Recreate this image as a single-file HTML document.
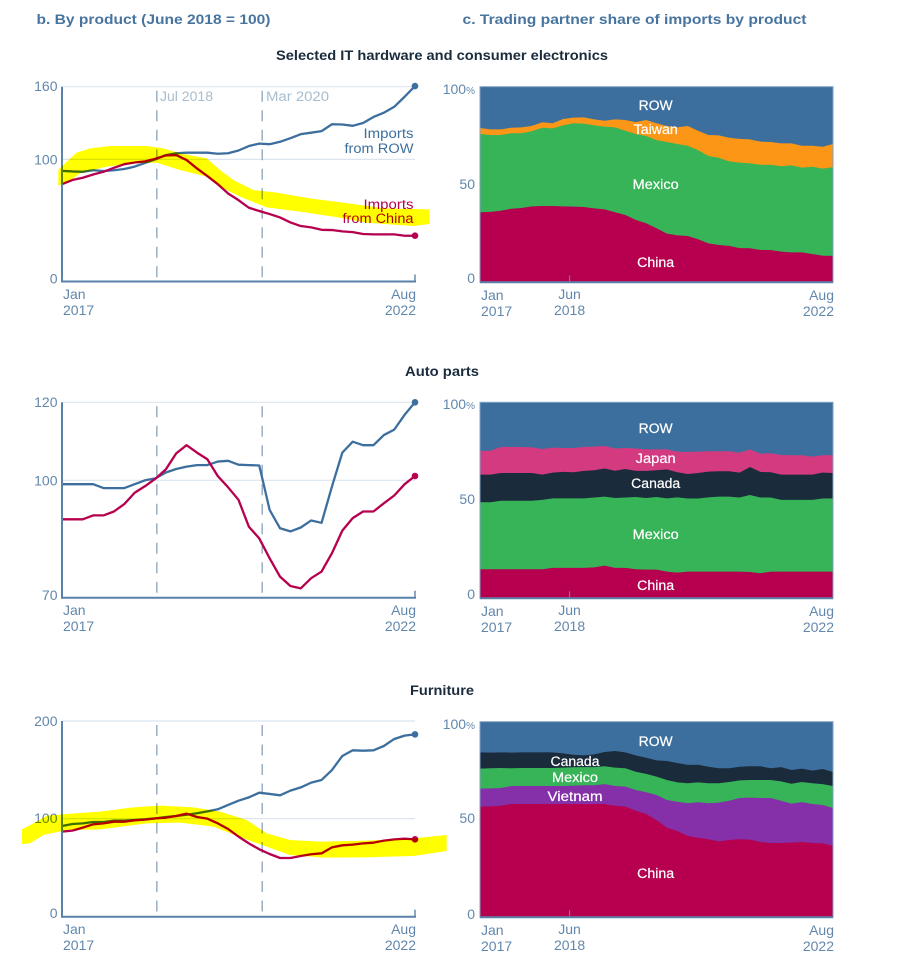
<!DOCTYPE html>
<html lang="en">
<head>
<meta charset="utf-8">
<title>Imports by product</title>
<style>
html,body{margin:0;padding:0;background:#fff;}
svg{display:block;font-family:"Liberation Sans",sans-serif;}
.panel-title{font-size:13.5px;font-weight:bold;fill:#47749f;}
.section-title{font-size:13.5px;font-weight:bold;fill:#1a2b3c;}
.tick{font-size:14px;fill:#6287ac;}
.event{font-size:13.5px;fill:#a9bccd;}
.stack-label{font-size:13.5px;fill:#fff;stroke:#fff;stroke-width:.2px;text-anchor:middle;}
.series-label{font-size:13.5px;text-anchor:end;}
.highlight{fill:#ffff00;mix-blend-mode:multiply;}
</style>
</head>
<body>
<svg id="chart" width="899" height="973" viewBox="0 0 899 973" xmlns="http://www.w3.org/2000/svg">
  <rect width="899" height="973" fill="#fff"/>
  <g id="marks"></g>

  <text class="panel-title" x="36.5" y="24" textLength="234" lengthAdjust="spacingAndGlyphs">b. By product (June 2018 = 100)</text>
  <text class="panel-title" x="462.5" y="24" textLength="344" lengthAdjust="spacingAndGlyphs">c. Trading partner share of imports by product</text>
  <text class="section-title" x="276" y="60" textLength="332" lengthAdjust="spacingAndGlyphs">Selected IT hardware and consumer electronics</text>
  <text class="section-title" x="405" y="376" textLength="74" lengthAdjust="spacingAndGlyphs">Auto parts</text>
  <text class="section-title" x="410" y="695" textLength="64" lengthAdjust="spacingAndGlyphs">Furniture</text>

  <text class="event" x="160" y="101" textLength="53" lengthAdjust="spacingAndGlyphs">Jul 2018</text>
  <text class="event" x="266" y="101" textLength="63" lengthAdjust="spacingAndGlyphs">Mar 2020</text>

  <text class="series-label" fill="#3d6f9e" x="413.5" y="138" textLength="50" lengthAdjust="spacingAndGlyphs">Imports</text>
  <text class="series-label" fill="#3d6f9e" x="413.5" y="153" textLength="69" lengthAdjust="spacingAndGlyphs">from ROW</text>
  <text class="series-label" fill="#b6004f" x="413.5" y="209" textLength="50" lengthAdjust="spacingAndGlyphs">Imports</text>
  <text class="series-label" fill="#b6004f" x="413.5" y="223" textLength="71" lengthAdjust="spacingAndGlyphs">from China</text>

  <text class="stack-label" x="655.7" y="110" textLength="34" lengthAdjust="spacingAndGlyphs">ROW</text>
  <text class="stack-label" x="655.7" y="134" textLength="44" lengthAdjust="spacingAndGlyphs">Taiwan</text>
  <text class="stack-label" x="655.7" y="189" textLength="46" lengthAdjust="spacingAndGlyphs">Mexico</text>
  <text class="stack-label" x="655.7" y="267" textLength="37" lengthAdjust="spacingAndGlyphs">China</text>

  <text class="stack-label" x="655.7" y="433" textLength="34" lengthAdjust="spacingAndGlyphs">ROW</text>
  <text class="stack-label" x="655.7" y="463" textLength="40" lengthAdjust="spacingAndGlyphs">Japan</text>
  <text class="stack-label" x="655.7" y="488" textLength="49" lengthAdjust="spacingAndGlyphs">Canada</text>
  <text class="stack-label" x="655.7" y="539" textLength="46" lengthAdjust="spacingAndGlyphs">Mexico</text>
  <text class="stack-label" x="655.7" y="590" textLength="37" lengthAdjust="spacingAndGlyphs">China</text>

  <text class="stack-label" x="655.7" y="746" textLength="34" lengthAdjust="spacingAndGlyphs">ROW</text>
  <text class="stack-label" x="575" y="766" textLength="49" lengthAdjust="spacingAndGlyphs">Canada</text>
  <text class="stack-label" x="575" y="782" textLength="46" lengthAdjust="spacingAndGlyphs">Mexico</text>
  <text class="stack-label" x="575" y="801" textLength="55" lengthAdjust="spacingAndGlyphs">Vietnam</text>
  <text class="stack-label" x="655.7" y="878" textLength="37" lengthAdjust="spacingAndGlyphs">China</text>

  <!-- Hand-drawn highlighter annotation laid over the charts (not a data mark) -->
  <g transform="scale(0.33333)">
    <polygon class="highlight" points="175,510 195,490 230,458 270,445 330,438 440,438 490,445 540,460 620,475 660,510 700,540 760,570 830,578 930,595 1060,612 1150,625 1288,628 1288,672 1240,678 1100,668 1000,650 900,635 800,622 720,590 670,565 620,530 540,510 470,488 400,490 320,500 240,520 205,545 175,557"/>
  </g>
  <g transform="translate(0,670) scale(0.33333)">
    <polygon class="highlight" points="66,478 100,460 140,437 200,432 300,425 400,412 480,407 580,412 660,425 740,450 800,490 870,510 960,515 1100,512 1240,505 1340,495 1340,543 1240,558 1100,562 970,563 870,555 800,530 730,505 640,470 540,458 440,460 300,478 200,480 130,495 90,520 66,522"/>
  </g>
</svg>

<script>
// ----- Time axis -----
const totalMonths = 67;            // Jan 2017 .. Aug 2022
const eventMonths = [18, 38];      // Jul 2018, Mar 2020
const junMonth = 17;               // Jun 2018
const leftXTickLabels = [["Jan", "2017"], ["Aug", "2022"]];
const rightXTickLabels = [["Jan", "2017"], ["Jun", "2018"], ["Aug", "2022"]];

// ----- Panel b: indexes (June 2018 = 100) -----
const electronicsTicks = [0, 100, 160];
const electronicsRow = [90.5,90,89.7,91,90.3,91,92,94,97,100,103.5,105,105.5,105.5,105.5,104.6,105,107.3,111,113,112.5,114.5,117.5,120.8,122,123.3,129,128.8,127.7,130,135,138.5,143.4,151.7,160.5];
const electronicsChina = [79.5,82.9,84.8,87.5,89.7,93,96,97.4,98.3,100.5,103.2,103.5,99.4,92.5,86.2,79.5,71.8,66.3,60,57.3,54.8,52,47.9,44.9,43.8,41.8,41.6,40.5,39.9,38.3,38,38,38,36.9,36.9];

const autoTicks = [70, 100, 120];
const autoRow = [99,99,99,99,98,98,98,99,100,100.5,102,102.9,103.5,103.9,103.9,104.8,105,104,103.9,103.8,92.4,87.7,86.9,87.9,89.7,89.1,98.4,107.1,109.9,109,109,111.6,113,116.8,120];
const autoChina = [90,90,90,91,91,92,93.9,96.8,98.5,100.4,102.8,106.9,109,107.1,105.4,101.1,98.2,95,88.1,85.1,80,75.3,72.9,72.3,74.9,76.6,81.3,87.1,90.3,92,92,94.1,96.1,99,101.1];

const furnitureTicks = [0, 100, 200];
const furnitureRow = [92.5,94.5,95.2,96.6,96.6,98,98,98.6,99.3,100.3,101.7,102.7,104,105.5,107.5,109.6,114,118.4,121.8,126.6,125.3,123.9,128.7,132,136.9,139.6,149.8,164.2,170,169.6,170,174.4,181.6,185,186.3];
const furnitureChina = [86.7,87.7,90.8,94.2,95.2,96.9,96.9,98.3,99,100.3,101,102.7,105.1,101.7,100,95.2,89.4,81.6,74.7,68.6,63.8,59.7,59.7,61.8,63.5,64.5,70.6,72.7,73.4,74.7,75.4,77.5,78.8,79.5,78.8];

// ----- Panel c: shares, as the upper edge of each stacked band (ROW fills to 100) -----
const shareTicks = [0, 50, 100];
const electronicsChinaTop = [35.8,36,36.6,37.6,38,38.8,39,39,38.8,38.7,38.5,37.8,37.3,35.8,34.4,31.9,30.2,27.6,24.9,24,23.7,22,19.9,19.1,18.6,17.5,17.4,16.5,16.5,15.7,15.3,15.3,14.5,13.6,13.5];
const electronicsMexicoTop = [75.8,75.3,75.3,76.2,76.2,77.3,79,78.7,80.2,81.3,81.1,80.2,79.6,79.2,77.5,75.8,74.8,72.7,71.7,70.7,69.8,67.6,64.6,63.7,61.8,61.2,60.8,60.1,60.1,59.3,59.8,58.6,59.1,58.1,58.8];
const electronicsTaiwanTop = [78.9,78.2,78.2,79,79.2,80,81.8,81.3,83.5,84.2,84.3,83.3,82.6,83.3,83,81.9,83,81.3,79.9,79.2,79.9,77.5,75.3,75.1,73.9,73.3,73.1,71.9,71.7,71,71,69.8,69.8,69.3,70.7];

const autoChinaTop = [14.8,14.8,14.8,14.8,14.8,14.8,14.8,15.5,15.5,15.5,15.5,15.8,16.7,15.5,15.5,14.8,14.6,14.6,13.6,13.1,13.6,13.6,13.6,13.6,13.6,13.6,13.4,12.8,13.6,13.6,13.6,13.6,13.6,13.6,13.6];
const autoMexicoTop = [49,49,49.8,49.8,49.8,49.8,50.2,51,51,51,51,51.4,51.9,51.2,51.4,51.7,51.2,51.7,51,51.5,50.9,50.9,51.5,51.9,51.9,51.4,52.7,51.4,51.4,50.2,50.2,50.2,50.2,50.9,51];
const autoCanadaTop = [63.1,63.1,63.9,63.9,63.9,63.9,63.1,64.1,64.5,64.3,65,65.3,66.2,65.1,66,65,65,65.3,65.8,64.3,63.4,63.9,64.6,64.8,64.8,64.1,67,64.5,64.3,63.1,63.1,63.1,63.1,64.1,63.9];
const autoJapanTop = [75.2,75.3,77.2,77.2,77.2,77,76.2,76.9,76.7,76.7,77.2,77.4,77.7,76.4,76.7,76.4,76,76,76,74.8,74.7,74.8,75,75,75,74.3,76,73.8,74,73.1,73,73,72.3,73,73];

const furnitureChinaTop = [56.6,56.7,57,57.9,57.9,57.9,57.9,57.9,57.9,57.9,57.9,57.9,57.9,57,56.6,54.5,52.8,49.7,45.8,44.1,41.6,40.7,39.9,38.8,39.5,39.9,39.7,38.5,38,38,38.2,38.5,38,37.8,36.6];
const furnitureVietnamTop = [65.8,65.9,66.1,67.1,67.1,67.1,67.1,67.1,67.1,67.3,67.5,67.5,68.1,67.1,66.8,65.1,63.9,62.5,60,59.1,58.3,58.8,58.3,58.6,59.6,61,61.2,61,61,59.6,58.1,58.9,57.9,57.4,55.9];
const furnitureMexicoTop = [76,76.2,76.3,76.2,76.3,76.3,76.3,76.3,76.5,76.7,76.8,76.8,77.2,76.5,76.2,74.4,73.3,71.9,70.2,69,68.5,69,68.5,68.5,69.2,70,70.2,70.2,70.2,69.5,68.3,69.2,68.5,68.1,67.1];
const furnitureCanadaTop = [84.3,84.2,84.3,84.2,84.3,84.3,84.3,84.3,83.8,83.1,82.8,83.3,84.5,85,84.3,82.8,81.6,80.2,79.9,78.9,77.9,78,77,76.2,76.2,77,77.2,77.2,76.2,76.8,75.3,76,75,75.8,74.3];

// ----- Layout and styling (separate from the data) -----
const BLUE = "#3d6f9e", RED = "#b6004f", AXIS = "#5a82a8", GRID = "#dbe4ef", DASH = "#92a9c0";
const COLORS = {China: "#b6004f", Mexico: "#37b358", Taiwan: "#fb9616", Canada: "#1a2b3c", Japan: "#d43a7f", Vietnam: "#8530a8"};
const leftFrame = {x0: 62, x1: 415};
const rightFrame = {x0: 480, x1: 833};
const leftPanels = [
  {name: "electronics", ticks: electronicsTicks, row: electronicsRow, china: electronicsChina, yMax: 86.7, yMin: 280.4, axisY: 281.5, labelDy: [3, 5, 4.5], xLabelY: 299},
  {name: "auto-parts", ticks: autoTicks, row: autoRow, china: autoChina, yMax: 402.3, yMin: 597.3, axisY: 597.7, labelDy: [2.5, 5, 4.5], xLabelY: 615},
  {name: "furniture", ticks: furnitureTicks, row: furnitureRow, china: furnitureChina, yMax: 721, yMin: 916.3, axisY: 916.7, labelDy: [1.7, 4.5, 5], xLabelY: 934}
];
const rightPanels = [
  {name: "electronics", bands: [["Taiwan", electronicsTaiwanTop], ["Mexico", electronicsMexicoTop], ["China", electronicsChinaTop]], yMax: 86.7, yMin: 282.3, xLabelY: 300, labelBase: [283, 189, 94]},
  {name: "auto-parts", bands: [["Japan", autoJapanTop], ["Canada", autoCanadaTop], ["Mexico", autoMexicoTop], ["China", autoChinaTop]], yMax: 402.3, yMin: 598.3, xLabelY: 616, labelBase: [599, 504, 409]},
  {name: "furniture", bands: [["Canada", furnitureCanadaTop], ["Mexico", furnitureMexicoTop], ["Vietnam", furnitureVietnamTop], ["China", furnitureChinaTop]], yMax: 721.7, yMin: 917.3, xLabelY: 935, labelBase: [919, 823, 729]}
];

// ----- Helpers -----
const marks = document.getElementById("marks");
function mk(tag, attrs, text) {
  const e = document.createElementNS("http://www.w3.org/2000/svg", tag);
  for (const k in attrs) e.setAttribute(k, attrs[k]);
  if (text !== undefined) e.textContent = text;
  marks.appendChild(e);
  return e;
}
function xAt(frame, month) { return frame.x0 + (frame.x1 - frame.x0) * month / totalMonths; }
function monthOfSample(i, n) { return totalMonths * i / (n - 1); }
function linearY(v, dMin, dMax, yMin, yMax) { return yMin + (v - dMin) / (dMax - dMin) * (yMax - yMin); }

// ----- Panel b -----
leftPanels.forEach(function (p) {
  const dMin = p.ticks[0], dMax = p.ticks[p.ticks.length - 1];
  const y = function (v) { return linearY(v, dMin, dMax, p.yMin, p.yMax); };

  p.ticks.slice(1).forEach(function (t) {
    const g = mk("line", {x1: leftFrame.x0, x2: leftFrame.x1, y1: y(t), y2: y(t), stroke: GRID, "stroke-width": 1.2});
    
    
  });
  p.ticks.forEach(function (t, i) {
    const l = mk("text", {class: "tick", x: 57.5, y: y(t) + p.labelDy[i], "text-anchor": "end"}, String(t));
    
    
  });
  eventMonths.forEach(function (m) {
    const d = mk("line", {x1: xAt(leftFrame, m), x2: xAt(leftFrame, m), y1: p.yMax + 4, y2: p.axisY, stroke: DASH, "stroke-width": 1.4, "stroke-dasharray": "11 8.5"});
    
    
  });
  [["row", p.row, BLUE], ["china", p.china, RED]].forEach(function (s) {
    const pts = s[1].map(function (v, i) { return xAt(leftFrame, monthOfSample(i, s[1].length)).toFixed(2) + "," + y(v).toFixed(2); }).join(" ");
    const line = mk("polyline", {points: pts, fill: "none", stroke: s[2], "stroke-width": 2.3, "stroke-linejoin": "round"});
    
    
    const dot = mk("circle", {cx: leftFrame.x1, cy: y(s[1][s[1].length - 1]), r: 3.3, fill: s[2]});
    
    
  });
  const ya = mk("line", {x1: leftFrame.x0, x2: leftFrame.x0, y1: p.yMax, y2: p.axisY + 1, stroke: AXIS, "stroke-width": 2});
  
  
  const xa = mk("line", {x1: leftFrame.x0, x2: leftFrame.x1 + 1, y1: p.axisY, y2: p.axisY, stroke: AXIS, "stroke-width": 2});
  
  
  const endTick = mk("line", {x1: leftFrame.x1, x2: leftFrame.x1, y1: p.axisY - 7, y2: p.axisY, stroke: AXIS, "stroke-width": 1.4});
  
  

  leftXTickLabels.forEach(function (lab, i) {
    const first = i === 0;
    lab.forEach(function (txt, row) {
      const t = mk("text", {class: "tick", x: first ? leftFrame.x0 + 1 : leftFrame.x1 + 1, y: p.xLabelY + row * 16, "text-anchor": first ? "start" : "end"}, txt);
      
      
    });
  });
});

// ----- Panel c -----
rightPanels.forEach(function (p) {
  const y = function (v) { return linearY(v, 0, 100, p.yMin, p.yMax); };
  const w = rightFrame.x1 - rightFrame.x0;

  const row = mk("rect", {x: rightFrame.x0, y: y(100), width: w, height: y(0) - y(100), fill: BLUE});
  
  

  p.bands.forEach(function (b) {
    const tops = b[1];
    const pts = tops.map(function (v, i) { return xAt(rightFrame, monthOfSample(i, tops.length)).toFixed(2) + "," + y(v).toFixed(2); });
    pts.push(rightFrame.x1 + "," + y(0), rightFrame.x0 + "," + y(0));
    const a = mk("polygon", {points: pts.join(" "), fill: COLORS[b[0]]});
    
    
  });

  const frame = mk("rect", {x: rightFrame.x0, y: y(100), width: w, height: y(0) - y(100), fill: "none", stroke: "#7fa0c4", "stroke-width": 1});
  
  
  const xa = mk("line", {x1: rightFrame.x0, x2: rightFrame.x1, y1: y(0), y2: y(0), stroke: AXIS, "stroke-width": 2});
  
  
  const jt = mk("line", {x1: xAt(rightFrame, junMonth), x2: xAt(rightFrame, junMonth), y1: y(0) - 7, y2: y(0), stroke: AXIS, "stroke-width": 1.2});
  
  

  shareTicks.forEach(function (t, i) {
    const l = mk("text", {class: "tick", x: 475, y: p.labelBase[i], "text-anchor": "end"}, String(t));
    if (t === 100) {
      const pct = document.createElementNS("http://www.w3.org/2000/svg", "tspan");
      pct.setAttribute("font-size", "10");
      pct.textContent = "%";
      l.appendChild(pct);
    }
    
    
  });

  rightXTickLabels.forEach(function (lab, i) {
    const anchor = i === 0 ? "start" : (i === 1 ? "middle" : "end");
    const xp = i === 0 ? rightFrame.x0 + 1 : (i === 1 ? xAt(rightFrame, junMonth) : rightFrame.x1 + 1);
    lab.forEach(function (txt, r) {
      const t = mk("text", {class: "tick", x: xp, y: p.xLabelY + r * 16 - (i === 1 ? 1 : 0), "text-anchor": anchor}, txt);
      
      
    });
  });
});
</script>
</body>
</html>
